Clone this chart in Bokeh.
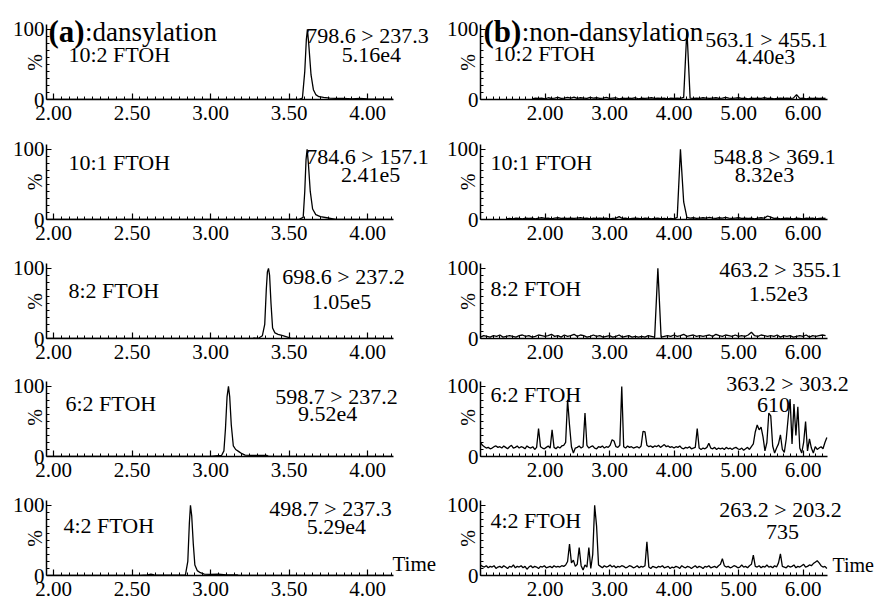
import numpy as np
from bokeh.plotting import figure
from bokeh.layouts import column, row
from bokeh.models import Label, FixedTicker, Range1d, PrintfTickFormatter
from bokeh.embed import file_html
from bokeh.resources import INLINE

SERIF = "Liberation Serif"

# ---------------- data ----------------
compounds = ["10:2 FTOH", "10:1 FTOH", "8:2 FTOH", "6:2 FTOH", "4:2 FTOH"]
dns_transitions = ["798.6 > 237.3", "784.6 > 157.1", "698.6 > 237.2", "598.7 > 237.2", "498.7 > 237.3"]
dns_intensities = ["5.16e4", "2.41e5", "1.05e5", "9.52e4", "5.29e4"]
non_transitions = ["563.1 > 455.1", "548.8 > 369.1", "463.2 > 355.1", "363.2 > 303.2", "263.2 > 203.2"]
non_intensities = ["4.40e3", "8.32e3", "1.52e3", "610", "735"]

dns_tick_values = [2.0, 2.5, 3.0, 3.5, 4.0]
non_tick_values = [2.0, 3.0, 4.0, 5.0, 6.0]

# (a) dansylation: retention time (min) and relative intensity (%)
dns_t_102 = [1.96, 2.2, 2.6, 3.0, 3.4, 3.56, 3.585, 3.600, 3.610, 3.617, 3.625, 3.640, 3.655,
             3.670, 3.690, 3.720, 3.760, 3.800, 3.850, 3.900, 3.950, 4.000, 4.100, 4.160]
dns_v_102 = [0, 0, 0, 0, 0, 0, 2, 40, 85, 100, 80, 35, 14, 7, 4, 3, 2, 1.5, 1.5, 1, 1.5, 1, 0.5, 0.5]

dns_t_101 = [1.96, 3.0, 3.56, 3.59, 3.600, 3.608, 3.615, 3.623, 3.635, 3.650, 3.670, 3.700,
             3.740, 3.780, 3.80, 4.16]
dns_v_101 = [0, 0, 0, 3, 40, 85, 100, 80, 40, 15, 7, 4, 2.5, 1, 0, 0]

dns_t_82 = [1.96, 3.20, 3.27, 3.31, 3.33, 3.345, 3.355, 3.362, 3.369, 3.376, 3.385, 3.395,
            3.41, 3.43, 3.46, 3.49, 3.51, 3.55, 4.16]
dns_v_82 = [0, 0, 0.5, 1, 4, 20, 70, 95, 100, 90, 50, 15, 8, 6, 4, 2, 0.5, 0, 0]

dns_t_62 = [1.96, 3.00, 3.03, 3.07, 3.085, 3.095, 3.105, 3.114, 3.122, 3.132, 3.145, 3.16,
            3.18, 3.20, 3.22, 3.26, 3.30, 3.36, 3.37, 4.16]
dns_v_62 = [0, 0, 0.8, 1.5, 8, 40, 85, 100, 85, 45, 15, 10, 7, 4, 2, 1.5, 1.5, 1.5, 0, 0]

dns_t_42 = [1.96, 2.55, 2.60, 2.62, 2.64, 2.68, 2.80, 2.84, 2.855, 2.865, 2.872, 2.880, 2.890,
            2.900, 2.915, 2.935, 2.96, 3.00, 3.05, 3.10, 3.17, 3.18, 4.16]
dns_v_42 = [0, 0, 1, 2, 1, 0.5, 0.5, 1, 20, 75, 100, 85, 45, 15, 7, 4, 2, 1.5, 2, 1, 1, 0, 0]

# (b) non-dansylation: first scan time, scan interval (min), relative intensity (%)
non_start_102, non_step_102 = 1.80, 0.05
non_v_102 = [1, 2, 1.5, 2, 1, 2.5, 1.5, 2, 3, 1.5,
             2, 3, 2, 3.5, 1.5, 2.5, 2, 1.5, 3, 2,
             2.5, 1.5, 2, 3, 1.5, 2, 2.5, 1, 2, 1.5,
             2, 1.5, 2.5, 1, 2, 1.5, 2, 2.5, 1.5, 2,
             1.5, 2, 1, 2, 1.5, 2, 1.5, 3, 100, 2,
             1.5, 2, 1.5, 2.5, 2, 1.5, 2, 2.5, 1.5, 2,
             3, 2, 1.5, 2, 2.5, 1.5, 2, 1, 2, 1.5,
             2, 1.5, 2.5, 1.5, 2, 1, 1.5, 2, 1.5, 2,
             1.5, 2, 7, 1.5, 2, 1, 2, 1.5, 2, 1.5,
             2, 1.5]

non_start_101, non_step_101 = 1.40, 0.05
non_v_101 = [1, 1.5, 1, 2, 1.5, 1, 2, 1.5, 2, 1,
             2, 2.5, 1.5, 2, 1, 2, 2.5, 1.5, 2, 1.5,
             2, 1.5, 2, 2.5, 1.5, 2, 1, 2, 1.5, 2,
             1.5, 2, 1, 1.5, 2, 4, 1.5, 2, 1, 1.5,
             2, 1.5, 1, 2, 1.5, 1, 1.5, 2, 1, 1.5,
             1, 1.5, 1, 3, 100, 25, 3, 2, 2.5, 1.5,
             2, 2.5, 2, 3, 2, 1.5, 2.5, 2, 3, 2,
             1.5, 2, 2.5, 1.5, 2, 1.5, 2, 1, 2, 2.5,
             2, 5, 3.5, 1.5, 2, 1, 1.5, 2, 1.5, 1,
             2, 1.5, 1, 2, 1.5, 2, 1, 1.5, 2, 1.5]

non_start_82, non_step_82 = 1.00, 0.05
non_v_82 = [2, 4, 3, 2, 4, 3, 5, 2, 3, 4,
            3, 2, 4, 5, 3, 4, 2, 3, 5, 4,
            3, 4, 6, 3, 4, 2, 5, 3, 4, 6,
            3, 5, 4, 2, 3, 5, 3, 4, 2, 3,
            4, 2, 3, 5, 2, 3, 4, 2, 3, 2,
            3, 2, 4, 3, 2, 100, 2, 3, 4, 3,
            5, 3, 4, 6, 3, 4, 5, 3, 4, 3,
            4, 5, 3, 6, 4, 3, 5, 4, 3, 5,
            3, 4, 3, 5, 9, 4, 3, 5, 4, 3,
            4, 3, 5, 2, 4, 3, 4, 2, 3, 4,
            3, 5, 2, 4, 3, 4, 5, 4]

non_start_62, non_step_62 = 1.00, 0.03
non_v_62 = [20, 16, 14, 12, 13, 11, 12, 14, 15, 13,
            14, 12, 15, 13, 11, 14, 16, 12, 13, 15,
            12, 14, 13, 11, 15, 13, 12, 14, 10, 13,
            40, 14, 12, 11, 13, 15, 12, 38, 13, 11,
            14, 12, 15, 16, 20, 81, 45, 14, 5, 12,
            13, 15, 12, 14, 62, 16, 12, 14, 15, 12,
            11, 14, 13, 15, 12, 14, 13, 16, 24, 22,
            14, 13, 16, 100, 14, 12, 15, 13, 14, 12,
            13, 14, 12, 15, 36, 35, 16, 14, 15, 13,
            15, 14, 16, 13, 15, 17, 14, 15, 13, 14,
            12, 14, 13, 15, 12, 11, 13, 12, 14, 11,
            12, 13, 40, 12, 10, 12, 11, 13, 19, 12,
            11, 13, 10, 12, 11, 12, 10, 13, 11, 12,
            10, 12, 13, 11, 10, 12, 9, 11, 13, 10,
            14, 18, 35, 45, 38, 42, 28, 8, 20, 62,
            58, 15, 5, 12, 18, 31, 10, 6, 25, 55,
            82, 18, 75, 30, 71, 12, 5, 20, 50, 8,
            25, 12, 5, 14, 10, 12, 14, 11, 20, 27]

non_start_42, non_step_42 = 1.00, 0.03
non_v_42 = [15, 13, 12, 14, 11, 13, 12, 14, 10, 12,
            13, 11, 14, 12, 10, 13, 12, 15, 11, 13,
            12, 14, 11, 13, 9, 12, 14, 11, 13, 12,
            10, 13, 12, 14, 11, 12, 13, 11, 14, 12,
            13, 12, 14, 13, 15, 20, 45, 18, 22, 13,
            16, 40, 14, 8, 15, 12, 40, 10, 30, 100,
            70, 15, 13, 11, 14, 12, 13, 15, 12, 14,
            11, 13, 12, 14, 13, 11, 12, 14, 13, 11,
            12, 14, 11, 13, 12, 14, 48, 12, 10, 13,
            12, 11, 13, 12, 14, 11, 12, 13, 10, 12,
            11, 13, 12, 10, 14, 12, 11, 13, 12, 10,
            12, 14, 11, 13, 12, 10, 13, 12, 14, 11,
            12, 13, 11, 14, 16, 24, 14, 12, 13, 11,
            12, 14, 13, 11, 12, 15, 12, 13, 11, 14,
            16, 29, 13, 12, 14, 11, 13, 12, 15, 12,
            13, 11, 14, 12, 18, 31, 13, 12, 11, 14,
            12, 13, 15, 11, 13, 12, 14, 16, 12, 13,
            15, 14, 17, 19, 21, 18, 14, 12, 13, 10]

dns_traces = [(dns_t_102, dns_v_102), (dns_t_101, dns_v_101), (dns_t_82, dns_v_82),
              (dns_t_62, dns_v_62), (dns_t_42, dns_v_42)]


def scan_times(start, step, vals):
    return [round(start + step * i, 3) for i in range(len(vals))]


non_traces = [(scan_times(non_start_102, non_step_102, non_v_102), non_v_102),
              (scan_times(non_start_101, non_step_101, non_v_101), non_v_101),
              (scan_times(non_start_82, non_step_82, non_v_82), non_v_82),
              (scan_times(non_start_62, non_step_62, non_v_62), non_v_62),
              (scan_times(non_start_42, non_step_42, non_v_42), non_v_42)]

# ---------------- layout / style ----------------
PX_PER_PCT = 0.701
BOTTOM = 30
LEFT_X0, LEFT_PXU, LEFT_BOUNDS = 1.955, 157.0, (1.955, 4.165)
RIGHT_X0, RIGHT_PXU, RIGHT_BOUNDS = 1.0, 64.5, (1.0, 6.38)
LEFT_W, LEFT_BL = 440, 46
RIGHT_W, RIGHT_BL = 435, 40
dns_minor = [round(1.95 + 0.05 * i, 2) for i in range(45)]
non_minor = [round(1.0 + 0.1 * i, 2) for i in range(54)]

ROW_HEIGHTS = [129, 120, 119, 118, 119]

# label positions: (name_x, name_y, mz_x, mz_y, int_x, int_y) in data units
LEFT_POS = [(2.095, 64, 4.00, 92, 4.025, 64),
            (2.095, 82, 4.00, 90.5, 4.02, 63.5),
            (2.095, 69, 3.847, 89, 3.834, 52),
            (2.076, 75, 3.802, 86, 3.745, 61),
            (2.063, 72, 3.764, 96, 3.802, 68.5)]
RIGHT_POS = [(1.202, 65, 5.434, 85, 5.419, 61),
             (1.155, 82, 5.558, 90.5, 5.403, 63.5),
             (1.155, 72, 5.651, 99, 5.620, 64),
             (1.155, 88.5, 5.760, 103.5, 5.543, 74),
             (1.155, 79, 5.651, 93.5, 5.682, 62)]


def add_text(p, x, y, text, size="22px", align="left", baseline="middle", style="normal"):
    p.add_layout(Label(x=x, y=y, text=text, text_font=SERIF, text_font_size=size,
                       text_align=align, text_baseline=baseline, text_font_style=style,
                       text_color="black"))


def make_panel(width, height, left, x0, pxu, bounds, ticks, minors, t, v, label_standoff):
    frame_w = width - left
    frame_h = height - BOTTOM
    p = figure(width=width, height=height,
               x_range=Range1d(x0, x0 + frame_w / pxu),
               y_range=Range1d(0, frame_h / PX_PER_PCT),
               output_backend="svg", toolbar_location=None,
               min_border_top=0, min_border_bottom=BOTTOM, min_border_left=left,
               min_border_right=0)
    p.outline_line_color = None
    p.xgrid.visible = False
    p.ygrid.visible = False
    p.background_fill_color = "white"
    p.border_fill_color = "white"
    p.line(t, v, line_color="black", line_width=1.3)

    xa = p.xaxis[0]
    xa.bounds = bounds
    xa.ticker = FixedTicker(ticks=ticks, minor_ticks=minors)
    xa.formatter = PrintfTickFormatter(format="%.2f")
    xa.major_tick_in = 6
    xa.major_tick_out = 0
    xa.minor_tick_in = 3
    xa.minor_tick_out = 0
    xa.axis_line_width = 1.5
    xa.axis_line_color = "black"
    xa.major_tick_line_color = "black"
    xa.minor_tick_line_color = "black"
    xa.major_tick_line_width = 1.2
    xa.minor_tick_line_width = 1.0
    xa.major_label_text_font = SERIF
    xa.major_label_text_font_size = "21px"
    xa.major_label_text_color = "black"
    xa.major_label_standoff = 6

    ya = p.yaxis[0]
    ya.bounds = (0, 107)
    ya.ticker = FixedTicker(ticks=[0, 100], minor_ticks=[10, 20, 30, 40, 50, 60, 70, 80, 90])
    ya.major_tick_in = 5
    ya.major_tick_out = 0
    ya.minor_tick_in = 3
    ya.minor_tick_out = 0
    ya.axis_line_width = 1.5
    ya.axis_line_color = "black"
    ya.major_tick_line_color = "black"
    ya.minor_tick_line_color = "black"
    ya.major_label_text_font = SERIF
    ya.major_label_text_font_size = "21px"
    ya.major_label_text_color = "black"
    ya.major_label_standoff = 2
    # "%" axis label, tucked next to the axis; padded so it sits mid-way between 0 and 100
    pad = max(0, int(round((frame_h - 76) / 5.0)))
    ya.axis_label = "%" + "\u00a0" * pad
    ya.axis_label_text_font = SERIF
    ya.axis_label_text_font_size = "20px"
    ya.axis_label_text_font_style = "normal"
    ya.axis_label_text_color = "black"
    ya.axis_label_standoff = label_standoff
    return p


rows = []
for i, h in enumerate(ROW_HEIGHTS):
    pl = make_panel(LEFT_W, h, LEFT_BL, LEFT_X0, LEFT_PXU, LEFT_BOUNDS,
                    dns_tick_values, dns_minor, *dns_traces[i], label_standoff=-36)
    pr = make_panel(RIGHT_W, h, RIGHT_BL, RIGHT_X0, RIGHT_PXU, RIGHT_BOUNDS,
                    non_tick_values, non_minor, *non_traces[i], label_standoff=-35)

    nx, ny, mx, my, ix, iy = LEFT_POS[i]
    add_text(pl, nx, ny, compounds[i])
    add_text(pl, mx, my, dns_transitions[i], align="center")
    add_text(pl, ix, iy, dns_intensities[i], align="center")

    nx, ny, mx, my, ix, iy = RIGHT_POS[i]
    add_text(pr, nx, ny, compounds[i])
    add_text(pr, mx, my, non_transitions[i], align="center")
    add_text(pr, ix, iy, non_intensities[i], align="center")

    if i == 0:
        add_text(pl, 1.968, 97, "(a)", size="31px", baseline="alphabetic", style="bold")
        add_text(pl, 2.200, 97, ":dansylation", size="27px", baseline="alphabetic")
        add_text(pr, 1.047, 97, "(b)", size="31px", baseline="alphabetic", style="bold")
        add_text(pr, 1.640, 97, ":non-dansylation", size="27px", baseline="alphabetic")
    if i == len(ROW_HEIGHTS) - 1:
        add_text(pl, 4.159, 0, "Time", size="21px", baseline="bottom")
        add_text(pr, 6.457, 0, "Time", size="20px", baseline="bottom")
    rows.append(row(pl, pr))

layout = column(*rows)
open("out.html", "w").write(file_html(layout, INLINE))
